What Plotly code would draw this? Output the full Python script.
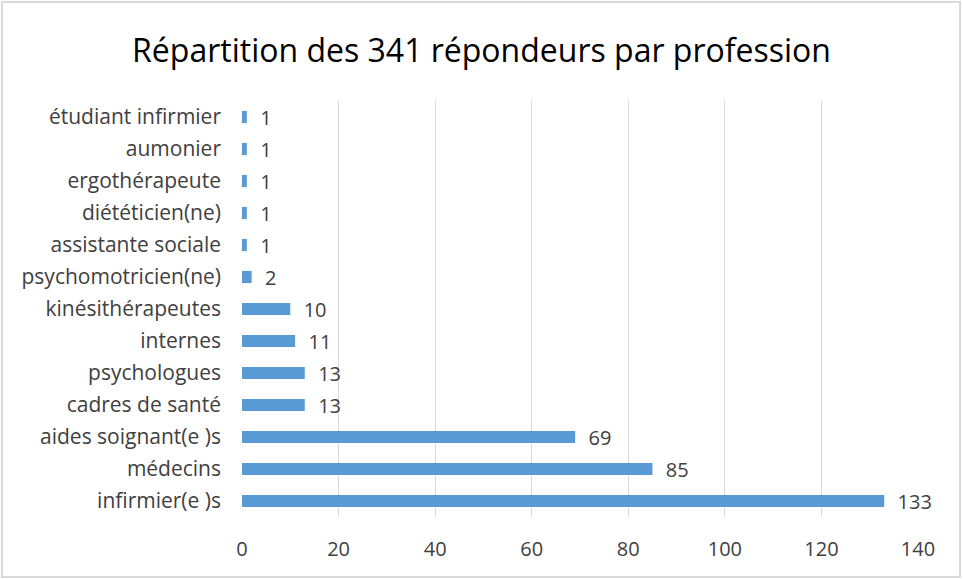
import plotly.graph_objects as go

# Data (bottom to top)
professions = ["infirmier(e )s", "médecins", "aides soignant(e )s", "cadres de santé",
               "psychologues", "internes", "kinésithérapeutes", "psychomotricien(ne)",
               "assistante sociale", "diététicien(ne)", "ergothérapeute", "aumonier",
               "étudiant infirmier"]
counts = [133, 85, 69, 13, 13, 11, 10, 2, 1, 1, 1, 1, 1]
x_ticks = [0, 20, 40, 60, 80, 100, 120, 140]

font_family = "Open Sans, sans-serif"

fig = go.Figure()
fig.add_trace(go.Bar(
    y=professions, x=counts, orientation="h",
    marker=dict(color="#5B9BD5", line=dict(width=0)),
    width=0.38,
    text=counts, texttemplate="  %{text}", textposition="outside",
    cliponaxis=False, constraintext="none",
    textfont=dict(size=20, color="#404040", family=font_family),
))

fig.update_layout(
    width=963, height=579,
    margin=dict(l=242, r=45, t=101, b=62, autoexpand=False),
    paper_bgcolor="white", plot_bgcolor="white",
    title=dict(text="Répartition des 341 répondeurs par profession",
               x=0.5, xanchor="center", y=0.912, yanchor="middle",
               font=dict(size=32, color="#000000", family=font_family)),
    xaxis=dict(range=[0, 140], tickvals=x_ticks, showgrid=True,
               gridcolor="#D9D9D9", gridwidth=1, zeroline=False,
               showline=False, ticks="", ticklabelstandoff=18, automargin=False,
               tickfont=dict(size=20, color="#404040", family=font_family)),
    yaxis=dict(categoryorder="array", categoryarray=professions,
               showgrid=False, ticks="", ticklabelstandoff=20, automargin=False,
               tickfont=dict(size=21, color="#404040", family=font_family)),
    showlegend=False,
    shapes=[dict(type="rect", xref="paper", yref="paper",
                 x0=-240/676, x1=1 + 42/676, y0=-60/416, y1=1 + 99/416,
                 line=dict(color="#D9D9D9", width=2))],
)

# remove the default page margin so the chart sits at the window's corner
fig.write_html("out.html", config={"displayModeBar": False},
               post_script="document.body.style.margin='0';")
